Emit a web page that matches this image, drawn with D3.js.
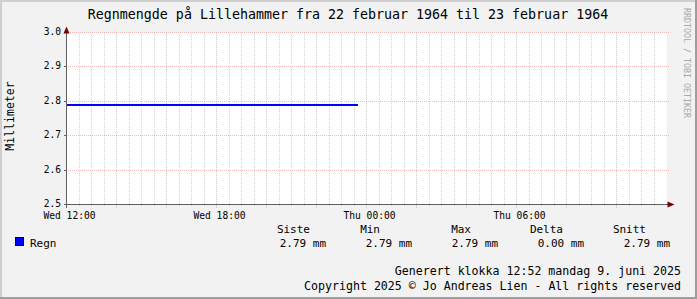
<!DOCTYPE html>
<html>
<head>
<meta charset="utf-8">
<script src="https://cdn.jsdelivr.net/npm/d3@7"></script>
<style>
  html, body { margin: 0; padding: 0; background: #f2f2f2; }
  svg { display: block; font-family: "DejaVu Sans Mono", monospace; }
</style>
</head>
<body>
<svg id="chart" width="697" height="299"></svg>
<script>
// data
const title = 'Regnmengde på Lillehammer fra 22 februar 1964 til 23 februar 1964'
const yLabel = 'Millimeter'
const hours = [0, 2, 4, 6, 8, 10, 11.65]          // hours after Wed 12:00
const regn = [2.79, 2.79, 2.79, 2.79, 2.79, 2.79, 2.79]
const yTicks = [2.5, 2.6, 2.7, 2.8, 2.9, 3.0]
const xTickHours = [0, 6, 12, 18]
const xTickLabels = ['Wed 12:00', 'Wed 18:00', 'Thu 00:00', 'Thu 06:00']
const legendHeads = ['Siste', 'Min', 'Max', 'Delta', 'Snitt']
const footer = [
  'Generert klokka 12:52 mandag 9. juni 2025',
  'Copyright 2025 © Jo Andreas Lien - All rights reserved'
]

//

const W = 697, H = 299
const svg = d3.select('#chart')

// background + shaded frame
svg.append('rect').attr('width', W).attr('height', H).attr('fill', '#f2f2f2')
svg.append('path').attr('d', `M0,0H${W}V2H2V${H}H0Z`).attr('fill', '#cfcfcf')
svg.append('path').attr('d', `M${W},${H}H0V${H - 2}H${W - 2}V0H${W}Z`).attr('fill', '#9e9e9e')

const x = d3.scaleLinear().domain([0, 24]).range([66.5, 666.5])
const y = d3.scaleLinear().domain([2.5, 3.0]).range([204.5, 32.5])

// canvas
svg.append('rect')
  .attr('x', x(0)).attr('y', y(3.0))
  .attr('width', x(24) - x(0)).attr('height', y(2.5) - y(3.0))
  .attr('fill', '#fff')

const grid = svg.append('g').attr('shape-rendering', 'crispEdges')

// minor vertical grid, every 30 min
const minor = d3.range(0.5, 24, 0.5).filter((h) => h % 2 !== 0)
grid.selectAll('line.minor').data(minor).join('line')
  .attr('x1', (d) => x(d)).attr('x2', (d) => x(d))
  .attr('y1', y(3.0)).attr('y2', y(2.5) + 2)
  .attr('stroke', 'rgba(143,143,143,0.4)')
  .attr('stroke-dasharray', '1,1')

// major vertical grid, every 2 hours
const major = d3.range(2, 24, 2)
grid.selectAll('line.major').data(major).join('line')
  .attr('x1', (d) => x(d)).attr('x2', (d) => x(d))
  .attr('y1', y(3.0)).attr('y2', y(2.5) + 3)
  .attr('stroke', 'rgba(222,80,80,0.38)')
  .attr('stroke-dasharray', '1,1')

// horizontal grid
grid.selectAll('line.hy').data(yTicks.slice(1)).join('line')
  .attr('x1', x(0) - 3).attr('x2', x(24) + 3)
  .attr('y1', (d) => y(d)).attr('y2', (d) => y(d))
  .attr('stroke', 'rgba(222,80,80,0.38)')
  .attr('stroke-dasharray', '1,1')

// y tick marks
grid.selectAll('line.ty').data(yTicks).join('line')
  .attr('x1', x(0) - 3).attr('x2', x(0))
  .attr('y1', (d) => y(d)).attr('y2', (d) => y(d))
  .attr('stroke', '#606060')

// data line
svg.append('path')
  .datum(hours.map((h, i) => [h, regn[i]]))
  .attr('fill', 'none')
  .attr('stroke', '#0000ff')
  .attr('stroke-width', 2)
  .attr('shape-rendering', 'crispEdges')
  .attr('d', d3.line().x((d) => x(d[0])).y((d) => y(d[1]) + 0.5))

// axes
grid.append('line')
  .attr('x1', x(0)).attr('x2', x(0))
  .attr('y1', y(3.0) - 4).attr('y2', y(2.5) + 3)
  .attr('stroke', '#606060')
grid.append('line')
  .attr('x1', x(0) - 3).attr('x2', x(24) + 4)
  .attr('y1', y(2.5)).attr('y2', y(2.5))
  .attr('stroke', '#606060')

// arrows
svg.append('path')
  .attr('d', `M${x(0) - 3},${y(3.0) + 1}L${x(0)},${y(3.0) - 6}L${x(0) + 3},${y(3.0) + 1}Z`)
  .attr('fill', '#7f0000')
svg.append('path')
  .attr('d', `M${x(24) + 1},${y(2.5) - 3}L${x(24) + 8},${y(2.5)}L${x(24) + 1},${y(2.5) + 3}Z`)
  .attr('fill', '#7f0000')

// y labels
svg.append('g').selectAll('text').data(yTicks).join('text')
  .attr('x', 61).attr('y', (d) => y(d) + 2.5)
  .attr('text-anchor', 'end')
  .attr('font-size', 9.6)
  .text((d) => d.toFixed(1))

// x labels
svg.append('g').selectAll('text').data(xTickHours).join('text')
  .attr('x', (d) => x(d) + 3).attr('y', 218.5)
  .attr('text-anchor', 'middle')
  .attr('font-size', 9.6)
  .text((d, i) => xTickLabels[i])

// title
svg.append('text')
  .attr('x', 348).attr('y', 19)
  .attr('text-anchor', 'middle')
  .attr('font-size', 13.3)
  .text(title)

// y axis title
svg.append('text')
  .attr('transform', 'translate(14,116) rotate(-90)')
  .attr('text-anchor', 'middle')
  .attr('font-size', 11.5)
  .text(yLabel)

// watermark
svg.append('text')
  .attr('transform', 'translate(684,8) rotate(90)')
  .attr('font-size', 8.3)
  .attr('fill', '#a8a8a8')
  .text('RRDTOOL / TOBI OETIKER')

// legend
const stats = [
  regn[regn.length - 1],
  d3.min(regn),
  d3.max(regn),
  d3.max(regn) - d3.min(regn),
  d3.mean(regn)
]
const headRight = [310, 380, 471, 563, 646]
const valRight = [326, 412, 498, 584, 670]

svg.append('rect')
  .attr('x', 15.5).attr('y', 237.5).attr('width', 8).attr('height', 8)
  .attr('fill', '#0000ff').attr('stroke', '#000')
svg.append('text')
  .attr('x', 30).attr('y', 247)
  .attr('font-size', 11)
  .text('Regn')

svg.append('g').selectAll('text').data(legendHeads).join('text')
  .attr('x', (d, i) => headRight[i]).attr('y', 233)
  .attr('text-anchor', 'end')
  .attr('font-size', 11)
  .text((d) => d)

svg.append('g').selectAll('text').data(stats).join('text')
  .attr('x', (d, i) => valRight[i]).attr('y', 247)
  .attr('text-anchor', 'end')
  .attr('font-size', 11)
  .text((d) => `${d.toFixed(2)} mm`)

// footer
svg.append('g').selectAll('text').data(footer).join('text')
  .attr('x', 681).attr('y', (d, i) => 275 + i * 14.5)
  .attr('text-anchor', 'end')
  .attr('font-size', 11.6)
  .text((d) => d)
</script>
</body>
</html>
